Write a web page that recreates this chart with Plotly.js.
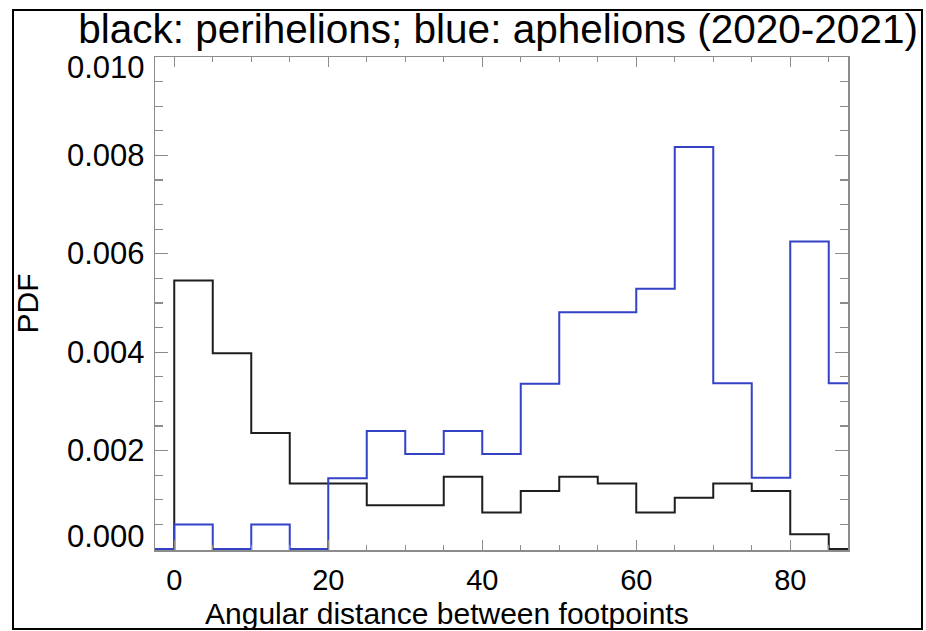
<!DOCTYPE html>
<html>
<head>
<meta charset="utf-8">
<script src="https://cdn.plot.ly/plotly-3.0.1.min.js"></script>
<style>
  html, body { margin: 0; padding: 0; background: #fff; }
  #wrap { position: relative; width: 926px; height: 631px; overflow: hidden; }
  #chart { width: 926px; height: 631px; }
  #frame { position: absolute; left: 12px; top: 9px; width: 907px; height: 617px;
           border: 2px solid #000; pointer-events: none; }
</style>
</head>
<body>
<div id="wrap"><div id="chart"></div><div id="frame"></div></div>
<script>
// Histogram bin edges (degrees); the first bin (-5..0) is empty
const binEdges = [-5, 0, 5, 10, 15, 20, 25, 30, 35, 40, 45, 50, 55, 60, 65, 70, 75, 80, 85, 90];

// PDF per bin, perihelion passes (black)
const perihelionPdf = [0, 0.00546, 0.00398, 0.00236, 0.00133, 0.00133, 0.00089, 0.00089, 0.00147, 0.00074,
                       0.00118, 0.00147, 0.00133, 0.00074, 0.00104, 0.00133, 0.00118, 0.00030, 0.0];

// PDF per bin, aphelion passes (blue)
const aphelionPdf = [0, 0.00050, 0.0, 0.00050, 0.0, 0.00144, 0.00240, 0.00193, 0.00240, 0.00193,
                     0.00336, 0.00481, 0.00481, 0.00529, 0.00817, 0.00337, 0.00145, 0.00625, 0.00337];

const xTickVals = [0, 20, 40, 60, 80];
const xTickText = ['0', '20', '40', '60', '80'];
const yTickVals = [0, 0.002, 0.004, 0.006, 0.008, 0.010];
const yTickText = ['0.000', '0.002', '0.004', '0.006', '0.008', '0.010'];

const FONT = 'Liberation Sans, Arial, Helvetica, sans-serif';
const AXIS_GREY = '#8c8c8c';

// hv step line: each value holds until the next edge
function stepY(vals) { return vals.concat([vals[vals.length - 1]]); }

const traces = [
  { x: binEdges, y: stepY(perihelionPdf), type: 'scatter', mode: 'lines',
    line: { shape: 'hv', color: '#1e1e1e', width: 2 }, hoverinfo: 'skip' },
  { x: binEdges, y: stepY(aphelionPdf), type: 'scatter', mode: 'lines',
    line: { shape: 'hv', color: '#3442c6', width: 2 }, hoverinfo: 'skip' }
];

const margin = { l: 155, r: 78, t: 57, b: 81 };

// y tick labels, end labels pulled inside the axis span
const yLabels = yTickVals.map((v, i) => ({
  xref: 'paper', yref: 'y', x: 0, y: v, text: yTickText[i],
  xanchor: 'right', yanchor: 'middle', xshift: -8,
  yshift: i === 0 ? 13 : (i === yTickVals.length - 1 ? -10 : 0),
  showarrow: false, font: { family: FONT, size: 31, color: '#000' }
}));

const layout = {
  width: 926, height: 631,
  margin: margin,
  paper_bgcolor: '#fff', plot_bgcolor: '#fff',
  showlegend: false,
  title: { text: 'black: perihelions; blue: aphelions (2020-2021)',
           font: { family: FONT, size: 40.5, color: '#000' },
           x: 0.495, xref: 'paper', xanchor: 'center',
           y: 1 - 29 / 631, yref: 'container', yanchor: 'middle' },
  xaxis: {
    range: [-2.5, 87.5], showgrid: false, zeroline: false,
    showline: true, linecolor: AXIS_GREY, linewidth: 1.5, mirror: 'ticks',
    tickmode: 'array', tickvals: xTickVals, ticktext: xTickText,
    ticks: 'inside', ticklen: 10, tickwidth: 1.2, tickcolor: AXIS_GREY,
    minor: { dtick: 5, tick0: 0, ticks: 'inside', ticklen: 5, tickwidth: 1.2, tickcolor: AXIS_GREY, showgrid: false },
    tickfont: { family: FONT, size: 29, color: '#000' }, ticklabelstandoff: 4
  },
  yaxis: {
    range: [-0.00002, 0.010], showgrid: false, zeroline: false,
    showline: true, linecolor: AXIS_GREY, linewidth: 1.5, mirror: 'ticks',
    tickmode: 'array', tickvals: yTickVals, showticklabels: false,
    ticks: 'inside', ticklen: 13, tickwidth: 1.2, tickcolor: AXIS_GREY,
    minor: { dtick: 0.0005, tick0: 0, ticks: 'inside', ticklen: 8, tickwidth: 1.2, tickcolor: AXIS_GREY, showgrid: false }
  },
  annotations: yLabels.concat([
    { xref: 'paper', yref: 'paper', x: 0, y: 0.5, xshift: -128, text: 'PDF', textangle: -90,
      xanchor: 'center', yanchor: 'middle', showarrow: false,
      font: { family: FONT, size: 30, color: '#000' } },
    { xref: 'paper', yref: 'paper', x: 0.421, y: 0, yshift: -63, text: 'Angular distance between footpoints',
      xanchor: 'center', yanchor: 'middle', showarrow: false, borderpad: 0,
      font: { family: FONT, size: 30, color: '#000' } }
  ])
};

Plotly.newPlot('chart', traces, layout, { staticPlot: true, displayModeBar: false });
</script>
</body>
</html>
